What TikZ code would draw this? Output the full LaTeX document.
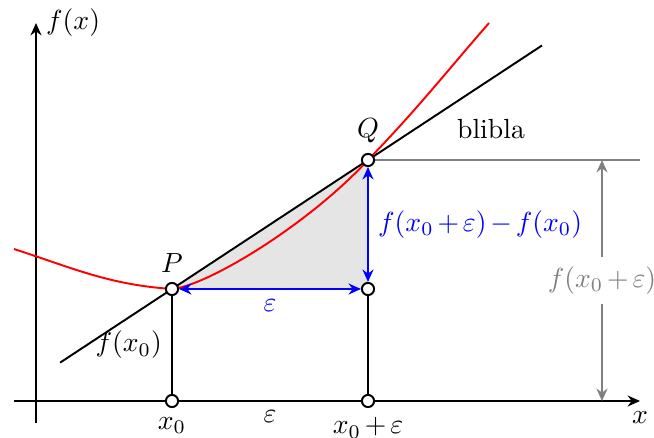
\documentclass[tikz,border=0pt]{standalone}
\usepackage{tikz}
\usetikzlibrary{calc}
\usetikzlibrary{arrows.meta}
\pgfdeclarelayer{background}
\pgfsetlayers{background,main}

\begin{document}
\begin{tikzpicture}[x=0.635cm,y=0.635cm]

		\def\ext{0.44}
		\medmuskip=2.5mu

		\tikzset{line/.style={draw,line width=0.7pt}}
		\tikzset{arrow/.style={line,<->}}
		\tikzset{>={Stealth[length=4.5pt,width=4pt,inset=1.5pt]}}
		\tikzset{dot/.style={shape=circle,draw,fill=white,inner sep=0pt,minimum size=4.4pt,line width=0.7pt}}

		\useasboundingbox (-0.72, -0.74) rectangle (12.36, 8.02);


		\node[dot, label = above:$P$] (P) at (2.72, 2.24) {};
		\node[dot, label = above:$Q$] (Q) at (6.64, 4.82) {};
		\node[dot] (R) at (6.64, 2.24) {};
		\node[dot, label = below:$x_0$] (x0) at (2.72, 0) {};
		\node[dot, label = below:$x_0+\varepsilon$] (x1) at (6.64, 0) {};

		\node (blibla) at (9.1, 5.44) {blibla};

		\coordinate (xa) at (-\ext, 0);
		\coordinate (xb) at (12.08, 0);
		\coordinate (ya) at (0, -\ext);
		\coordinate (yb) at (0, 7.56);
		\coordinate (fl) at (-0.44, 3.04);
		\coordinate (fr) at (9.06, 7.56);
		\coordinate (h) at (12.08, 4.82);
		\coordinate (g0) at (11.32, 0);
		\coordinate (g1) at (11.32, 4.82);

		\begin{pgfonlayer}{background}
			\fill[gray!20] (P.center) -- (Q.center) -- (R.center) -- cycle;

			\path[line,->] (ya) -- (yb) node[right] {$f(x)$};
			\path[line,->] (xa) -- (xb) node[below] {$x$};

			\path[line] ($(P)!-0.571!(Q)$) -- ($(P)!1.888!(Q)$);
			\path[line,red] (fl) to[out=-18,in=176] (P.center)
				.. controls +(0.7,0.06) and +(-1.2,-1.3) .. (Q.center)
				to[out=46,in=229] (fr);

			\path[line] (x0) -- (P) node[midway,left] {$f(x_0)$};
			\path[line] (x1) -- (R);
			\path (x0) -- (x1) node[midway,below] {$\varepsilon$};

			% f(x0+eps) on the right
			\path[line,gray] (Q) -- (h);
			\path[arrow,gray] (g1) -- (g0) node[midway,fill=white] {$f(x_0+\varepsilon)$};

			\path[arrow,blue] (Q) -- (R) node[midway,right] {$f(x_0+\varepsilon)-f(x_0)$};
			\path[arrow,blue] (P) -- (R) node[midway,below] {$\varepsilon$};
		\end{pgfonlayer}

	\end{tikzpicture}
\end{document}
